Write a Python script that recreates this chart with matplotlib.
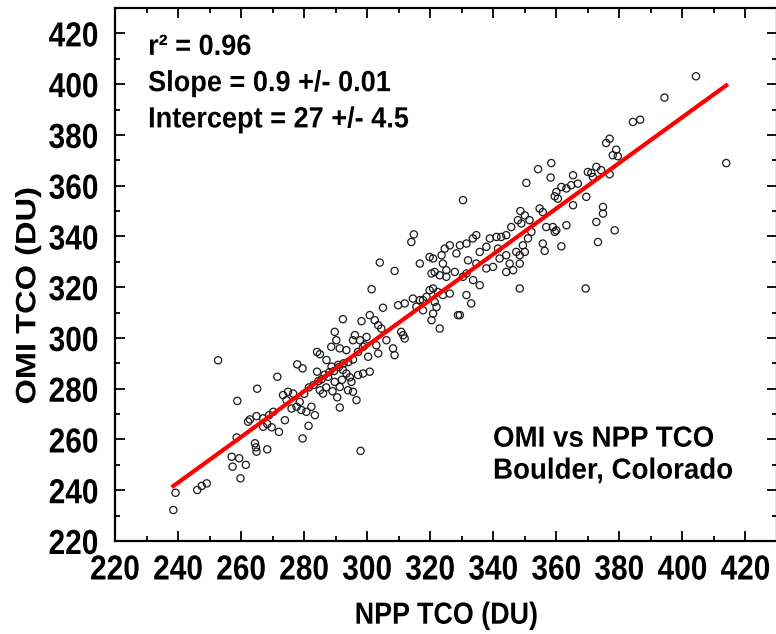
import numpy as np
import matplotlib
matplotlib.use("Agg")
import matplotlib.pyplot as plt
from matplotlib.ticker import MultipleLocator
from matplotlib.font_manager import FontProperties
from matplotlib.patheffects import AbstractPathEffect
from matplotlib.transforms import Affine2D

# NPP TCO (x) and OMI TCO (y), in DU
npp_tco = [
    239.2, 238.5, 246.1, 247.5, 249.1, 259.8, 257.3, 261.5, 259.4, 257.0,
    258.6, 258.8, 265.1, 271.5, 277.8, 279.5, 268.3, 264.4, 264.7, 264.9,
    279.5, 281.4, 297.9, 272.0, 269.7, 267.0, 268.3, 262.8, 264.9, 262.2,
    267.0, 268.9, 270.2, 273.9, 273.3, 274.9, 274.4, 276.5, 278.6, 277.6,
    279.1, 280.7, 282.3, 283.4, 276.0, 290.5, 291.3, 293.9, 295.5, 296.6,
    284.1, 285.5, 284.1, 285.0, 298.7, 300.8, 297.1, 303.5, 306.1, 308.2,
    308.7, 252.7,
    314.8, 314.0, 304.0, 308.7, 301.4, 305.0, 292.3, 298.2, 300.8, 302.4,
    303.5, 304.5, 309.8, 311.9, 314.5, 316.7, 315.6, 317.7, 310.8, 311.9,
    311.4, 289.7, 290.2, 288.6, 291.3, 293.4, 295.5, 296.1, 297.7, 299.8,
    298.7, 297.1, 300.3, 287.1, 288.7, 290.8, 292.3, 293.4, 287.6, 289.7,
    291.3, 295.0, 285.0, 286.0, 299.2, 302.9,
    286.5, 288.0, 289.5, 291.0, 292.5, 294.0, 295.5, 284.5, 283.0, 281.5,
    280.0, 287.0, 289.0, 292.0, 294.5,
    326.2, 324.6, 323.6, 320.9, 319.8, 316.7, 324.0, 325.1, 321.4, 320.4,
    323.0, 325.1, 327.8, 328.3, 320.9, 319.8, 322.4, 324.0, 326.2, 321.4,
    322.0, 320.9, 320.4, 323.0, 328.8, 318.8, 317.7,
    384.3, 376.9, 375.8, 379.0, 377.9, 379.5, 358.4, 354.2, 358.2, 350.5,
    372.7, 371.1, 370.0, 374.2, 371.6, 376.9, 365.3, 366.8, 364.7, 363.2,
    361.6, 360.0, 359.5, 360.5, 369.5, 365.3, 330.4,
    348.6, 350.0, 347.8, 348.9, 351.5, 354.7, 355.7, 356.8, 358.9, 359.5,
    360.0, 363.2, 361.6, 355.7, 356.3, 352.1, 351.0, 349.4, 348.4, 347.3,
    345.7, 344.1, 342.5, 341.0, 338.9, 337.8, 334.6, 333.5, 331.5, 329.4,
    335.7, 341.5, 344.1, 342.0, 345.2, 350.0, 348.4, 346.3, 344.1, 339.9,
    337.8, 334.6, 332.0, 331.5, 333.6, 335.7, 330.4, 331.5, 333.0, 329.4,
    348.4, 369.3, 372.7, 374.8, 373.2, 378.5, 374.8,
    404.3, 394.3, 386.6, 413.9,
]
omi_tco = [
    239.0, 232.2, 240.1, 241.7, 242.7, 244.7, 249.3, 250.0, 252.6, 253.2,
    260.8, 275.2, 280.0, 284.7, 289.6, 288.0, 256.1, 258.5, 256.9, 255.2,
    260.4, 265.4, 255.5, 263.0, 264.8, 265.0, 266.1, 267.9, 269.2, 267.0,
    268.3, 269.6, 270.9, 267.6, 277.5, 278.8, 275.5, 278.1, 274.8, 272.9,
    271.6, 270.9, 272.9, 269.6, 272.2, 276.6, 272.6, 279.4, 278.8, 275.5,
    286.7, 283.7, 294.5, 293.6, 286.0, 286.7, 285.4, 293.9, 299.1, 295.9,
    293.2, 291.2,
    340.8, 337.8, 329.7, 326.4, 319.2, 311.9, 307.4, 306.6, 309.0, 307.0,
    305.0, 303.7, 312.9, 313.6, 315.5, 314.9, 312.3, 310.9, 302.4, 299.8,
    301.1, 302.4, 299.1, 296.5, 295.9, 295.2, 299.1, 301.1, 299.1, 300.4,
    296.5, 294.5, 292.6, 291.3, 288.7, 289.4, 287.4, 286.0, 284.7, 282.7,
    280.7, 282.7, 279.4, 278.1, 297.1, 297.1,
    285.5, 286.5, 287.0, 288.5, 290.0, 290.5, 291.5, 283.0, 281.5, 280.5,
    278.0, 280.5, 279.0, 283.5, 284.5,
    336.5, 335.2, 332.6, 331.3, 331.9, 329.3, 329.3, 326.7, 326.0, 325.4,
    324.7, 324.1, 326.0, 333.3, 319.5, 318.8, 318.1, 316.9, 317.5, 314.2,
    312.2, 309.6, 307.0, 303.7, 309.0, 316.2, 314.9,
    385.1, 378.5, 376.8, 374.2, 372.0, 371.6, 368.9, 366.5, 363.2, 361.1,
    367.4, 365.0, 365.4, 366.1, 363.4, 364.5, 364.1, 360.8, 360.2, 358.9,
    359.5, 357.5, 355.8, 354.9, 355.6, 352.3, 354.3,
    350.0, 348.3, 346.4, 345.1, 346.4, 351.0, 349.6, 343.7, 343.7, 341.8,
    342.4, 344.4, 336.1, 337.2, 334.3, 341.8, 339.2, 336.5, 332.6, 333.9,
    343.7, 340.5, 339.8, 339.8, 339.2, 335.9, 340.5, 339.2, 337.2, 336.5,
    333.9, 335.2, 332.6, 331.3, 329.3, 333.9, 329.3, 326.7, 326.0, 328.0,
    327.4, 329.3, 330.6, 325.4, 322.8, 320.8, 324.1, 316.9, 313.6, 309.0,
    319.5, 319.5, 345.7, 349.0, 337.8, 342.4, 351.6,
    403.1, 394.7, 386.0, 368.9,
]

fit_slope = 0.9
fit_intercept = 27.0

stats_text = ["r\u00b2 = 0.96", "Slope = 0.9 +/- 0.01", "Intercept = 27 +/- 4.5"]
site_text = ["OMI vs NPP TCO", "Boulder, Colorado"]


class Squeeze(AbstractPathEffect):
    """Narrow the glyphs (the source uses a condensed face).
    anchor says which point of the text stays put: left / center."""

    def __init__(self, sx=1.0, sy=1.0, anchor="center"):
        super().__init__()
        self.sx = sx
        self.sy = sy
        self.anchor = anchor

    def draw_path(self, renderer, gc, tpath, affine, rgbFace=None):
        ext = tpath.get_extents()
        cx = 0.0 if self.anchor == "left" else (ext.x0 + ext.x1) / 2
        cy = (ext.y0 + ext.y1) / 2
        sq = Affine2D().translate(-cx, -cy).scale(self.sx, self.sy).translate(cx, cy)
        renderer.draw_path(gc, tpath, sq + affine, rgbFace)


bold = ["Liberation Sans", "DejaVu Sans"]
tick_font = FontProperties(family=bold, weight="bold", size=25)
text_font = FontProperties(family=bold, weight="bold", size=21)

x = np.array(npp_tco)
y = np.array(omi_tco)

fig = plt.figure(figsize=(7.76, 6.34), dpi=100)
ax = fig.add_axes([115 / 776, 93 / 634, 662 / 776, 533 / 634])

ax.scatter(x, y, s=27, facecolors="none", edgecolors="#1a1a1a",
           linewidths=0.9, zorder=2)

fit_x = np.array([x.min(), x.max()])
ax.plot(fit_x, fit_slope * fit_x + fit_intercept, color="red", lw=3, zorder=3)

ax.set_xlim(220, 430)
ax.set_ylim(220, 430)
ax.set_xticks(np.arange(220, 421, 20))
ax.set_yticks(np.arange(220, 421, 20))
ax.xaxis.set_minor_locator(MultipleLocator(10))
ax.yaxis.set_minor_locator(MultipleLocator(10))
ax.tick_params(which="both", direction="in", top=True, right=True, width=1.3)
ax.tick_params(which="major", length=7)
ax.tick_params(which="minor", length=3.5)
ax.tick_params(axis="x", pad=9)
ax.tick_params(axis="y", pad=9)
for lab in ax.get_xticklabels() + ax.get_yticklabels():
    lab.set_fontproperties(tick_font)
    lab.set_path_effects([Squeeze(0.86)])
for sp in ax.spines.values():
    sp.set_linewidth(1.6)

xlab = ax.set_xlabel("NPP TCO (DU)", fontproperties=FontProperties(
    family=bold, weight="bold", size=22))
xlab.set_path_effects([Squeeze(0.88)])
ylab = ax.set_ylabel("OMI TCO (DU)", fontproperties=FontProperties(
    family=bold, weight="bold", size=23.5))
ylab.set_path_effects([Squeeze(1.0, 0.86)])
ax.xaxis.set_label_coords(0.5, -0.112)
ax.yaxis.set_label_coords(-0.108, 0.46)

for i, line in enumerate(stats_text):
    t = ax.text(0.05, 0.927 - i * 0.068, line, transform=ax.transAxes,
                va="center", ha="left", fontproperties=text_font)
    t.set_path_effects([Squeeze(0.93, anchor="left")])
for i, line in enumerate(site_text):
    t = ax.text(0.571, 0.192 - i * 0.06, line, transform=ax.transAxes,
                va="center", ha="left", fontproperties=text_font)
    t.set_path_effects([Squeeze(0.95, anchor="left")])

fig.savefig("out.png", dpi=100)
